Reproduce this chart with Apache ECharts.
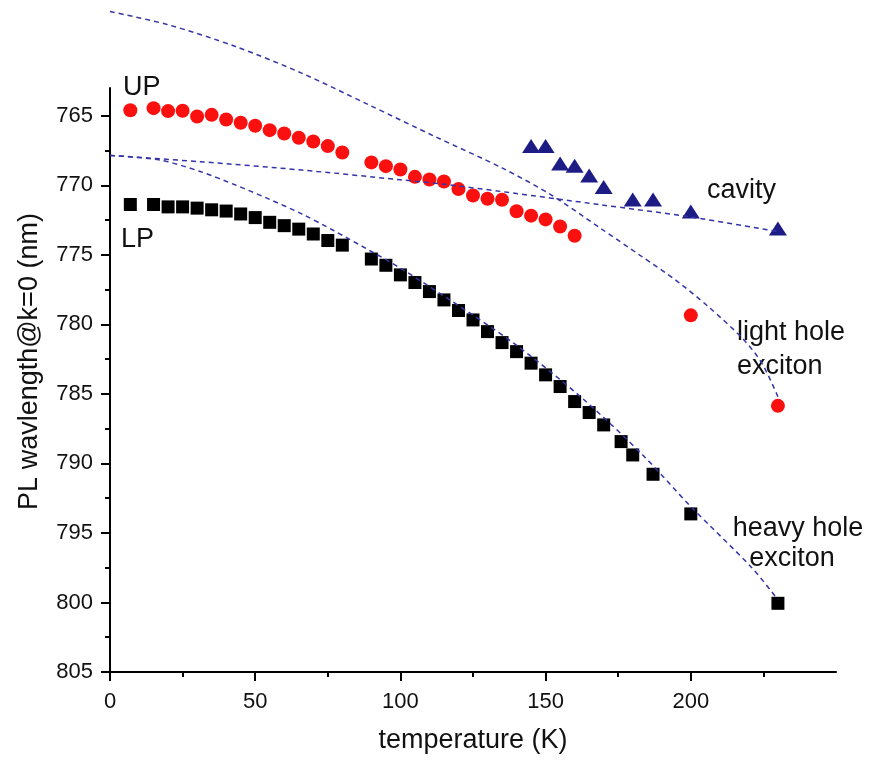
<!DOCTYPE html>
<html>
<head>
<meta charset="utf-8">
<title>PL wavelength vs temperature</title>
<script src="https://cdn.jsdelivr.net/npm/echarts@6.0.0/dist/echarts.min.js"></script>
<style>
  html, body { margin: 0; padding: 0; background: #ffffff; }
  #chart { width: 872px; height: 762px; }
</style>
</head>
<body>
<div id="chart"></div>
<script>
// Upper polariton branch (red circles)
var upTemp = [7, 15, 20, 25, 30, 35, 40, 45, 50, 55, 60, 65, 70, 75, 80,
              90, 95, 100, 105, 110, 115, 120, 125, 130, 135, 140, 145, 150, 155, 160,
              200, 230];
var upWavelength = [764.6, 764.45, 764.66, 764.64, 765.05, 764.93, 765.27, 765.5, 765.71, 766.03, 766.27, 766.58, 766.85, 767.18, 767.64,
                    768.35, 768.62, 768.86, 769.39, 769.58, 769.72, 770.27, 770.73, 770.97, 771.04, 771.86, 772.18, 772.45, 772.96, 773.63,
                    779.35, 785.86];

// Lower polariton branch (black squares)
var lpTemp = [7, 15, 20, 25, 30, 35, 40, 45, 50, 55, 60, 65, 70, 75, 80,
              90, 95, 100, 105, 110, 115, 120, 125, 130, 135, 140, 145, 150, 155, 160,
              165, 170, 176, 180, 187, 200, 230];
var lpWavelength = [771.38, 771.38, 771.55, 771.55, 771.64, 771.76, 771.85, 772.06, 772.32, 772.66, 772.9, 773.15, 773.5, 773.97, 774.3,
                    775.3, 775.75, 776.44, 776.99, 777.64, 778.24, 779.0, 779.68, 780.52, 781.31, 781.96, 782.79, 783.63, 784.47, 785.55,
                    786.34, 787.23, 788.43, 789.39, 790.78, 793.63, 800.06];

// Cavity mode (navy triangles)
var cavityTemp = [145, 150, 155, 160, 165, 170, 180, 187, 200, 230];
var cavityWavelength = [767.18, 767.18, 768.43, 768.6, 769.3, 770.12, 771.02, 771.02, 771.88, 773.1];

// Dashed model curves
var cavityCurveTemp = [0, 31, 66, 100, 114, 135, 169, 199, 230];
var cavityCurveWavelength = [767.85, 768.3, 768.9, 769.6, 769.9, 770.45, 771.4, 772.25, 773.32];

var lightHoleCurveTemp = [0, 20, 43, 66, 89, 112, 135, 152, 169, 183, 195, 206, 218, 224.5, 230];
var lightHoleCurveWavelength = [757.5, 758.45, 760.0, 761.93, 764.2, 766.5, 768.75, 770.7, 773.1, 775.1, 776.85, 778.72, 781.05, 782.8, 785.2];

var heavyHoleCurveTemp = [0, 17, 31, 43, 54, 66, 77, 89, 100, 116, 139, 162, 183, 200, 221, 230];
var heavyHoleCurveWavelength = [767.85, 768.17, 769.0, 769.96, 770.92, 772.05, 773.25, 774.64, 775.96, 778.1, 781.35, 785.2, 789.3, 793.1, 797.5, 799.8];

// Axis ticks
var xMajorTicks = [0, 50, 100, 150, 200];
var xMinorTicks = [25, 75, 125, 175, 225];
var yMajorTicks = [765, 770, 775, 780, 785, 790, 795, 800, 805];
var yMinorTicks = [767.5, 772.5, 777.5, 782.5, 787.5, 792.5, 797.5, 802.5];

function pairs(xs, ys) {
  return xs.map(function (x, i) { return [x, ys[i]]; });
}

var FONT = 'Liberation Sans, Arial, Helvetica, sans-serif';
var TEXT = '#111111';
var CURVE = '#3434a8';

var chart = echarts.init(document.getElementById('chart'), null, { renderer: 'canvas' });

var curveStyle = { color: CURVE, width: 1.5, type: [5, 4], opacity: 1 };

function curve(name, xs, ys) {
  return {
    name: name, type: 'line', showSymbol: false, smooth: 0.3,
    clip: false, lineStyle: curveStyle, data: pairs(xs, ys), z: 4
  };
}

chart.setOption({
  backgroundColor: '#ffffff',
  animation: false,
  grid: { left: 110, right: 36, top: 88, bottom: 90 },
  xAxis: [
    {
      type: 'value', min: 0, max: 250,
      name: 'temperature (K)', nameLocation: 'middle', nameGap: 55,
      nameTextStyle: { fontFamily: FONT, fontSize: 27, color: TEXT },
      axisLine: { show: true, lineStyle: { color: '#000', width: 2 } },
      axisTick: { show: true, customValues: xMajorTicks, length: 9, lineStyle: { color: '#000', width: 2 } },
      axisLabel: { show: true, customValues: xMajorTicks, margin: 19, fontFamily: FONT, fontSize: 22, color: TEXT },
      splitLine: { show: false }
    },
    {
      type: 'value', min: 0, max: 250, position: 'bottom',
      axisLine: { show: false },
      axisTick: { show: true, customValues: xMinorTicks, length: 5, lineStyle: { color: '#000', width: 2 } },
      axisLabel: { show: false },
      splitLine: { show: false }
    }
  ],
  yAxis: [
    {
      type: 'value', min: 763, max: 805, inverse: true,
      name: 'PL wavlength@k=0 (nm)', nameLocation: 'middle', nameGap: 67,
      nameTextStyle: { fontFamily: FONT, fontSize: 27, color: TEXT, padding: [0, 0, 0, 37] },
      axisLine: { show: true, lineStyle: { color: '#000', width: 2 } },
      axisTick: { show: true, customValues: yMajorTicks, length: 9, lineStyle: { color: '#000', width: 2 } },
      axisLabel: { show: true, customValues: yMajorTicks, margin: 17, fontFamily: FONT, fontSize: 22, color: TEXT },
      splitLine: { show: false }
    },
    {
      type: 'value', min: 763, max: 805, inverse: true, position: 'left',
      axisLine: { show: false },
      axisTick: { show: true, customValues: yMinorTicks, length: 5, lineStyle: { color: '#000', width: 2 } },
      axisLabel: { show: false },
      splitLine: { show: false }
    }
  ],
  series: [
    {
      name: 'UP', type: 'scatter', symbol: 'circle', symbolSize: 14,
      itemStyle: { color: '#fb1010', opacity: 1 },
      data: pairs(upTemp, upWavelength), z: 3
    },
    {
      name: 'LP', type: 'scatter', symbol: 'rect', symbolSize: 13,
      itemStyle: { color: '#000000', opacity: 1 },
      data: pairs(lpTemp, lpWavelength), z: 3
    },
    {
      name: 'cavity', type: 'scatter', symbol: 'triangle', symbolSize: [18, 14],
      itemStyle: { color: '#1c1c84', opacity: 1 },
      data: pairs(cavityTemp, cavityWavelength), z: 3
    },
    curve('cavity model', cavityCurveTemp, cavityCurveWavelength),
    curve('light hole exciton', lightHoleCurveTemp, lightHoleCurveWavelength),
    curve('heavy hole exciton', heavyHoleCurveTemp, heavyHoleCurveWavelength)
  ],
  graphic: [
    { type: 'text', x: 123, y: 88, z: 2, style: { text: 'UP', fontFamily: FONT, fontSize: 27, fill: TEXT, align: 'left', verticalAlign: 'middle' } },
    { type: 'text', x: 121, y: 240, z: 2, style: { text: 'LP', fontFamily: FONT, fontSize: 27, fill: TEXT, align: 'left', verticalAlign: 'middle' } },
    { type: 'text', x: 707, y: 191, z: 2, style: { text: 'cavity', fontFamily: FONT, fontSize: 27, fill: TEXT, align: 'left', verticalAlign: 'middle' } },
    { type: 'text', x: 737, y: 333, z: 2, style: { text: 'light hole', fontFamily: FONT, fontSize: 27, fill: TEXT, align: 'left', verticalAlign: 'middle' } },
    { type: 'text', x: 737, y: 367, z: 2, style: { text: 'exciton', fontFamily: FONT, fontSize: 27, fill: TEXT, align: 'left', verticalAlign: 'middle' } },
    { type: 'text', x: 798, y: 529, z: 2, style: { text: 'heavy hole', fontFamily: FONT, fontSize: 27, fill: TEXT, align: 'center', verticalAlign: 'middle' } },
    { type: 'text', x: 792, y: 559, z: 2, style: { text: 'exciton', fontFamily: FONT, fontSize: 27, fill: TEXT, align: 'center', verticalAlign: 'middle' } }
  ]
});
</script>
</body>
</html>
